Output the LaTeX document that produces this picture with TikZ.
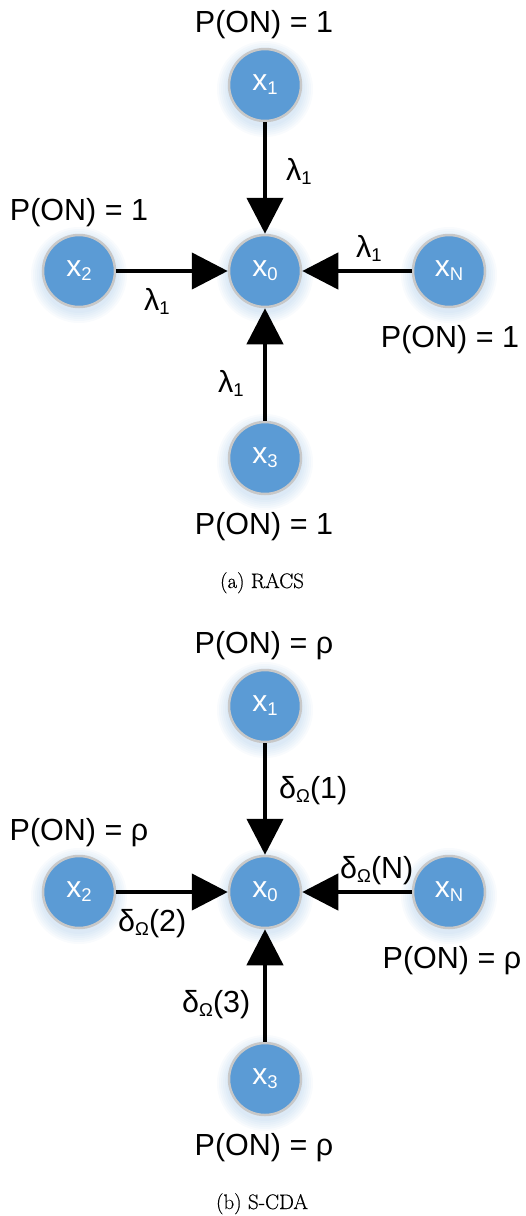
\documentclass[tikz,border=0pt]{standalone}
\usepackage{fontspec}
\setmainfont{Liberation Sans}
\newfontfamily\capfont[FakeBold=0.5]{Latin Modern Roman}
\usetikzlibrary{arrows.meta}
\definecolor{nodeblue}{HTML}{5B9BD5}
\definecolor{ringgray}{HTML}{C8C8C8}
\newcommand\sbs[1]{\raisebox{-4pt}{\fontsize{18.5}{18}\selectfont #1}}
\newcommand\glowat[2]{\foreach \r in {38,40,...,48}{\fill[nodeblue, opacity=0.04] (#1,#2+4) circle[radius=\r pt];}}
\begin{document}
\begin{tikzpicture}[x=1pt,y=-1pt,
  stn/.style={circle, fill=nodeblue, draw=ringgray, line width=2.5pt, minimum size=72pt, inner sep=0pt, text=white, font=\fontsize{30}{30}\selectfont},
  lbl/.style={font=\fontsize{30.5}{34}\selectfont, inner sep=0pt, anchor=base},
  elbl/.style={font=\fontsize{30.5}{34}\selectfont, inner sep=0pt, anchor=base west},
  captxt/.style={font=\capfont\fontsize{21}{24}\selectfont, inner sep=0pt, anchor=base},
  arr/.style={line width=4.5pt, -{Triangle[length=36pt,width=36pt]}},
  ]
\useasboundingbox (0,0) rectangle (526,1216);
% glows
\glowat{265}{85}\glowat{265}{271}\glowat{79}{271}\glowat{449}{271}\glowat{265}{458}
\glowat{265}{706}\glowat{265}{892}\glowat{79}{892}\glowat{449}{892}\glowat{265}{1079}
% ---------------- (a) RACS
\node[stn] (a1) at (265,85) {x\sbs{1}};
\node[stn] (a0) at (265,271) {x\sbs{0}};
\node[stn] (a2) at (79,271) {x\sbs{2}};
\node[stn] (aN) at (449,271) {x\sbs{N}};
\node[stn] (a3) at (265,458) {x\sbs{3}};
\draw[arr] (a1) -- (a0);
\draw[arr] (a2) -- (a0);
\draw[arr] (aN) -- (a0);
\draw[arr] (a3) -- (a0);
\node[lbl] (pa1) at (264,32) {P(ON) = 1};
\node[lbl] (pa2) at (79,220) {P(ON) = 1};
\node[lbl] (paN) at (450,347) {P(ON) = 1};
\node[lbl] (pa3) at (264,534) {P(ON) = 1};
\node[elbl] (la1) at (286,180) {λ\sbs{1}};
\node[elbl] (la2) at (144,310) {λ\sbs{1}};
\node[elbl] (laN) at (356,257) {λ\sbs{1}};
\node[elbl] (la3) at (218,392) {λ\sbs{1}};
\node[captxt] (capa) at (262,588) {(a) RACS};
% ---------------- (b) S-CDA
\node[stn] (b1) at (265,706) {x\sbs{1}};
\node[stn] (b0) at (265,892) {x\sbs{0}};
\node[stn] (b2) at (79,892) {x\sbs{2}};
\node[stn] (bN) at (449,892) {x\sbs{N}};
\node[stn] (b3) at (265,1079) {x\sbs{3}};
\draw[arr] (b1) -- (b0);
\draw[arr] (b2) -- (b0);
\draw[arr] (bN) -- (b0);
\draw[arr] (b3) -- (b0);
\node[lbl] (pb1) at (264,653) {P(ON) = ρ};
\node[lbl] (pb2) at (79,840) {P(ON) = ρ};
\node[lbl] (pbN) at (452,968) {P(ON) = ρ};
\node[lbl] (pb3) at (264,1155) {P(ON) = ρ};
\node[elbl] (lb1) at (279,798) {δ\sbs{Ω}(1)};
\node[elbl] (lb2) at (118,931) {δ\sbs{Ω}(2)};
\node[elbl] (lbN) at (340,878) {δ\sbs{Ω}(N)};
\node[elbl] (lb3) at (182,1012) {δ\sbs{Ω}(3)};
\node[captxt] (capb) at (262,1209) {(b) S-CDA};
\end{tikzpicture}
\end{document}
